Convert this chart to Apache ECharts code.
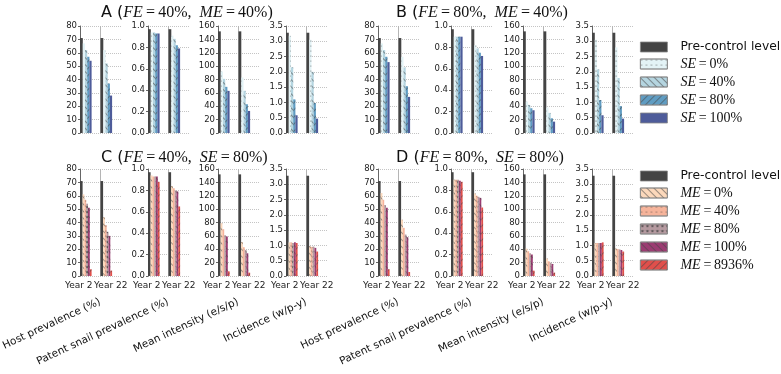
<!DOCTYPE html>
<html>
<head>
<meta charset="utf-8">
<script src="https://cdn.jsdelivr.net/npm/echarts@6/dist/echarts.min.js"></script>
<style>
  html, body { margin: 0; padding: 0; background: #fff; }
  #chart { width: 781px; height: 374px; }
</style>
</head>
<body>
<div id="chart"></div>
<script>
const categories = ['Year 2', 'Year 22'];
const metricNames = ['Host prevalence (%)', 'Patent snail prevalence (%)', 'Mean intensity (e/s/p)', 'Incidence (w/p-y)'];
const yMax = [80, 1.0, 160, 3.5];
const yStep = [10, 0.2, 20, 0.5];
const yDecimals = [0, 1, 0, 1];
const seNames = ['SE=0%', 'SE=40%', 'SE=80%', 'SE=100%'];
const meNames = ['ME=0%', 'ME=40%', 'ME=80%', 'ME=100%', 'ME=8936%'];

// pre-control level, same in every panel: [Year 2, Year 22]
const preControl = [[71, 71], [0.97, 0.97], [152, 152], [3.28, 3.28]];

// one row per scenario: [Year 2, Year 22]
const aHost = [[67, 62], [62, 52], [57, 37], [54, 28]];
const aSnail = [[0.94, 0.91], [0.94, 0.88], [0.93, 0.82], [0.93, 0.79]];
const aIntensity = [[92, 83], [81, 63], [69, 43], [63, 33]];
const aIncidence = [[3.18, 3.05], [2.15, 2.0], [1.1, 0.98], [0.58, 0.47]];

const bHost = [[67, 57], [62, 49], [57, 35], [53, 27]];
const bSnail = [[0.90, 0.82], [0.90, 0.79], [0.90, 0.75], [0.90, 0.72]];
const bIntensity = [[47, 38], [42, 30], [37, 22], [34, 17]];
const bIncidence = [[3.05, 2.8], [2.08, 1.8], [1.08, 0.88], [0.58, 0.47]];

const cHost = [[61, 44], [57, 38], [54, 33], [51, 30], [5, 4]];
const cSnail = [[0.94, 0.84], [0.93, 0.82], [0.93, 0.80], [0.93, 0.79], [0.88, 0.65]];
const cIntensity = [[79, 51], [70, 43], [61, 39], [59, 34], [7, 5]];
const cIncidence = [[1.1, 0.98], [1.1, 0.95], [1.08, 0.96], [1.1, 0.92], [1.08, 0.8]];

const dHost = [[62, 42], [57, 36], [53, 31], [51, 29], [5, 3]];
const dSnail = [[0.90, 0.77], [0.90, 0.75], [0.90, 0.74], [0.89, 0.73], [0.88, 0.64]];
const dIntensity = [[41, 26], [37, 22], [34, 20], [32, 18], [8, 5]];
const dIncidence = [[1.08, 0.9], [1.08, 0.88], [1.08, 0.87], [1.08, 0.85], [1.1, 0.8]];

const preColor = '#444444';
const seColors = ['#e3f3f6', '#b5d5e0', '#5f9cc2', '#4e5c9a'];
const meColors = ['#fcd8bb', '#f6b49b', '#b59aa0', '#9b3c72', '#e04f4b'];

const dots = {symbol: 'circle', symbolSize: 0.5, dashArrayX: [2, 3], dashArrayY: [2, 3], color: '#333'};
const slash = {symbol: 'rect', symbolSize: 1, dashArrayX: [1, 0], dashArrayY: [1, 4], rotation: Math.PI / 4, color: 'rgba(70,70,70,0.55)'};
const backslash = {...slash, rotation: -Math.PI / 4};
const stars = {symbol: 'path://M5,0 L6.2,3.8 L10,3.8 L6.9,6.2 L8,10 L5,7.6 L2,10 L3.1,6.2 L0,3.8 L3.8,3.8Z', symbolSize: 0.8, dashArrayX: [4, 1], dashArrayY: [4, 1], color: '#444'};
const seDecals = [dots, slash, backslash, null];
const meDecals = [slash, dots, stars, slash, backslash];

const panels = [
  {label: 'A', fe: '40%', other: ['ME', '40%'], names: seNames, colors: seColors, decals: seDecals, data: [aHost, aSnail, aIntensity, aIncidence], row: 0, col: 0},
  {label: 'B', fe: '80%', other: ['ME', '40%'], names: seNames, colors: seColors, decals: seDecals, data: [bHost, bSnail, bIntensity, bIncidence], row: 0, col: 1},
  {label: 'C', fe: '40%', other: ['SE', '80%'], names: meNames, colors: meColors, decals: meDecals, data: [cHost, cSnail, cIntensity, cIncidence], row: 1, col: 0},
  {label: 'D', fe: '80%', other: ['SE', '80%'], names: meNames, colors: meColors, decals: meDecals, data: [dHost, dSnail, dIntensity, dIncidence], row: 1, col: 1},
];

const rowTop = [26, 169];
const plotH = 107;
const plotW = 41;
const colLeft = [[80, 148, 218, 286], [378, 451, 523, 592]];
const titleLeft = [96, 391];
const titleTop = [0, 145];
const groupW = 11.6;

const grids = [], xAxes = [], yAxes = [], series = [], titles = [];

panels.forEach(p => {
  titles.push({
    text: `{s|${p.label} (}{i|FE}{n|\u2009=\u2009${p.fe},  }{i|${p.other[0]}}{n|\u2009=\u2009${p.other[1]})}`,
    left: titleLeft[p.col],
    top: titleTop[p.row],
    textStyle: {
      fontWeight: 'normal',
      rich: {
        s: {fontFamily: 'DejaVu Sans', fontSize: 16, fontWeight: 'normal', color: '#111'},
        i: {fontFamily: 'Liberation Serif', fontStyle: 'italic', fontWeight: 'normal', fontSize: 16, color: '#111'},
        n: {fontFamily: 'Liberation Serif', fontWeight: 'normal', fontSize: 16, color: '#111'}
      }
    }
  });
  p.data.forEach((scen, m) => {
    const g = grids.length;
    const bottomRow = p.row === 1;
    grids.push({left: colLeft[p.col][m], top: rowTop[p.row], width: plotW, height: plotH, outerBoundsMode: 'none'});
    xAxes.push({
      type: 'category',
      gridIndex: g,
      data: categories,
      axisLine: {show: false},
      axisTick: {show: false},
      axisLabel: {
        show: bottomRow,
        interval: 0,
        margin: 5,
        formatter: v => v === 'Year 2' ? '{a|' + v + '}' : '{b|' + v + '}',
        rich: {
          a: {fontFamily: 'DejaVu Sans', fontSize: 9, color: '#222', padding: [0, 23, 0, 0]},
          b: {fontFamily: 'DejaVu Sans', fontSize: 9, color: '#222'}
        }
      },
      splitLine: {show: true, lineStyle: {color: ['transparent', '#b5b5b5', 'transparent'], width: 1}},
      name: bottomRow ? metricNames[m] : '',
      nameLocation: 'middle',
      nameRotate: 25,
      nameGap: 19,
      nameTextStyle: {fontFamily: 'DejaVu Sans', fontSize: 10.5, color: '#111', align: 'right', verticalAlign: 'top', padding: [0, 3, 0, 0]}
    });
    yAxes.push({
      type: 'value',
      gridIndex: g,
      min: 0,
      max: yMax[m],
      interval: yStep[m],
      axisLine: {show: true, lineStyle: {color: '#666', width: 1}},
      axisTick: {show: true, length: 2, lineStyle: {color: '#666'}},
      axisLabel: {fontFamily: 'DejaVu Sans', fontSize: 8.5, color: '#222', margin: 3, formatter: v => v.toFixed(yDecimals[m])},
      splitLine: {show: true, lineStyle: {color: '#c4c4c4', type: 'dotted', width: 1}}
    });
    const n = scen.length;
    const preW = n === 4 ? 2.8 : 2.6;
    const w = (groupW - preW) / n;
    series.push({
      name: 'Pre-control level', type: 'bar', xAxisIndex: g, yAxisIndex: g,
      data: preControl[m], barWidth: preW, barGap: '0%', barCategoryGap: '0%',
      itemStyle: {color: preColor}
    });
    scen.forEach((vals, k) => {
      const style = {color: p.colors[k]};
      if (p.decals[k]) style.decal = p.decals[k];
      series.push({
        name: p.names[k], type: 'bar', xAxisIndex: g, yAxisIndex: g,
        data: vals, barWidth: w, barGap: '0%', barCategoryGap: '0%',
        itemStyle: style
      });
    });
    // empty bar that fills the rest of each band so the group sits at its left edge
    series.push({
      name: '_pad', type: 'bar', xAxisIndex: g, yAxisIndex: g,
      data: [0, 0], barWidth: plotW / 2 - groupW, barGap: '0%', barCategoryGap: '0%',
      itemStyle: {color: 'transparent'}, silent: true
    });
  });
});

function legendLabel(name) {
  if (name.indexOf('=') < 0) return '{p|' + name + '}';
  const parts = name.split('=');
  return '{i|' + parts[0] + '}{n|\u2009=\u2009' + parts[1] + '}';
}
const legendText = {
  rich: {
    p: {fontFamily: 'DejaVu Sans', fontSize: 12.3, color: '#111', padding: [0, 0, 0, 8], lineHeight: 14},
    i: {fontFamily: 'Liberation Serif', fontStyle: 'italic', fontSize: 14, color: '#111', padding: [0, 0, 0, 8], lineHeight: 14},
    n: {fontFamily: 'Liberation Serif', fontSize: 14, color: '#111', lineHeight: 14}
  }
};
const legendBase = {
  orient: 'vertical', left: 635, icon: 'rect', itemWidth: 27, itemHeight: 10, itemGap: 4,
  selectedMode: false, formatter: legendLabel, textStyle: legendText,
  itemStyle: {borderColor: '#888', borderWidth: 0.8}
};

const chart = echarts.init(document.getElementById('chart'));
chart.setOption({
  animation: false,
  backgroundColor: '#fff',
  title: titles,
  legend: [
    {...legendBase, top: 36, data: ['Pre-control level', ...seNames]},
    {...legendBase, top: 165, data: ['Pre-control level', ...meNames]}
  ],
  grid: grids,
  xAxis: xAxes,
  yAxis: yAxes,
  series: series
});
</script>
</body>
</html>
